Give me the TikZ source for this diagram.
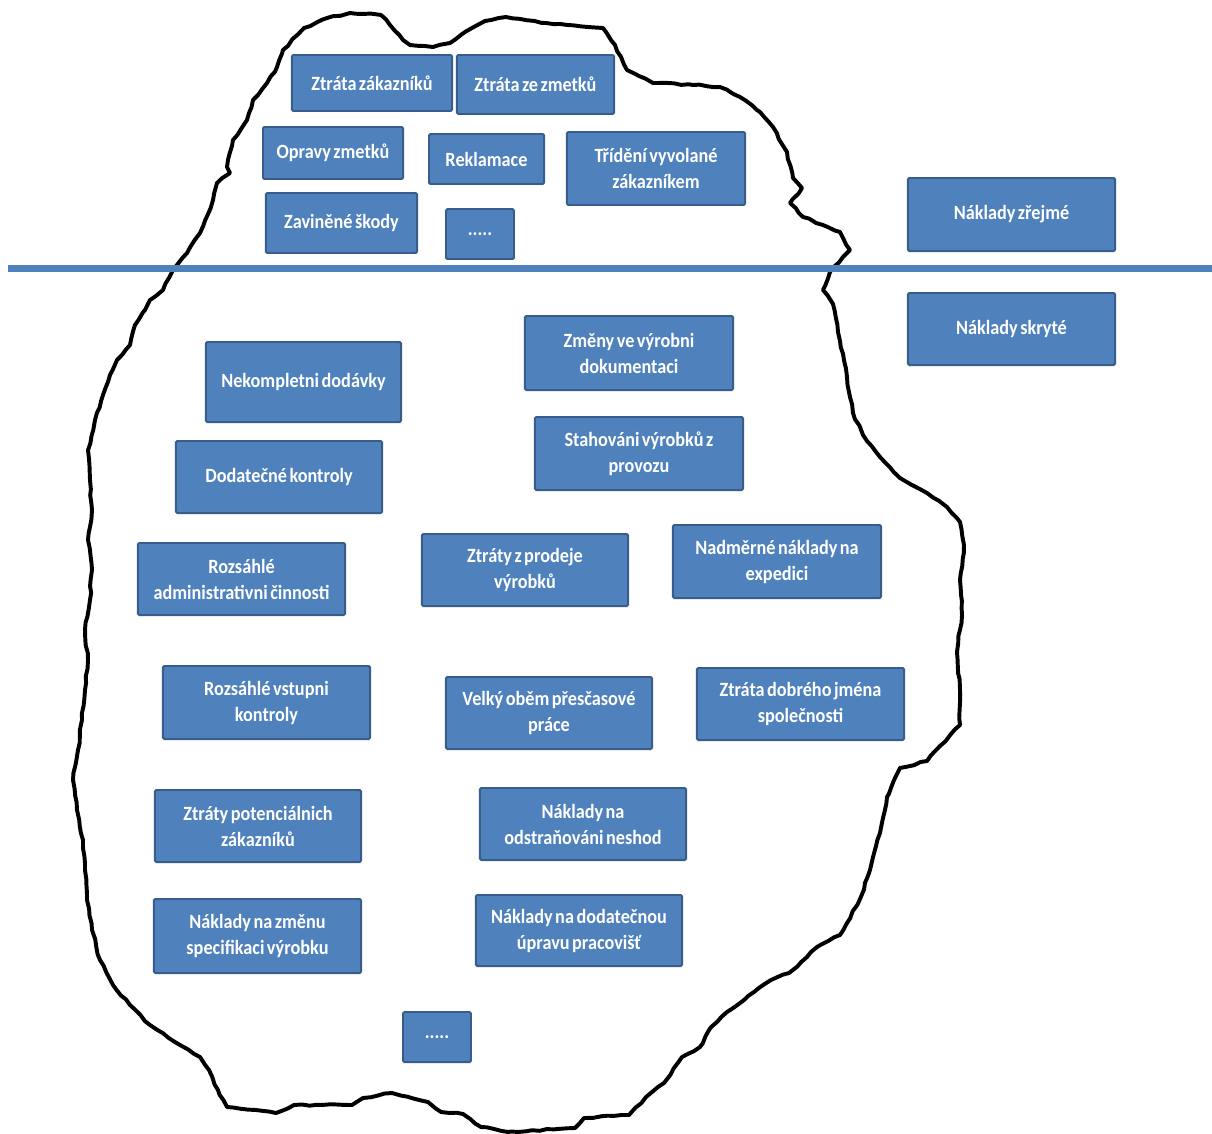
\documentclass[tikz,border=0pt]{standalone}
\usepackage{fontspec}
\setmainfont{Carlito}[FakeStretch=0.9,WordSpace=0.6]
\usetikzlibrary{decorations.pathmorphing}
\definecolor{boxfill}{HTML}{4F81BD}
\definecolor{boxedge}{HTML}{385D8A}
\begin{document}
\begin{tikzpicture}[x=0.025cm,y=-0.025cm,
  costbox/.style={draw=boxedge,fill=boxfill,line width=1.4pt,rounded corners=1pt,
    text=white,align=center,inner sep=2pt,
    font=\bfseries\fontsize{14.4}{18.5}\selectfont},
  berg/.style={line width=2.8pt,line join=round,
    decorate,decoration={random steps,segment length=5pt,amplitude=0.6pt}},
  waterline/.style={boxfill,line width=5pt}]
\useasboundingbox (0,0) rectangle (1212,1133);
% iceberg outline
\draw[berg] (163,290)--(173,270)--(187,253)--(200,233)--(213,200)--(217,183)--(230,173)--(227,167)
 --(233,140)--(247,120)--(253,100)--(267,83)--(277,67)--(283,50)--(304,28)--(327,18)--(350,13)
 --(381,15)--(390,25)--(403,40)--(410,45)--(433,47)--(450,43)--(465,32)--(485,21)--(506,17)
 --(546,23)--(603,28)--(615,45)--(627,70)--(653,83)--(693,85)--(720,87)--(740,97)--(760,112)
 --(773,127)--(787,152)--(793,178)--(802,188)--(790,203)--(803,217)--(823,225)--(840,232)
 --(850,250)--(843,257)--(830,272)--(823,290)--(833,304)--(840,341)--(847,377)--(853,413)
 --(863,435)--(880,457)--(900,478)--(927,493)--(947,507)--(960,522)--(964,545)--(960,580)
 --(962,615)--(957,652)--(960,690)--(960,725)--(940,746)--(927,761)--(900,768)--(887,797)
 --(880,833)--(870,870)--(860,899)--(840,935)--(817,947)--(807,957)--(789,973)--(771,980)
 --(754,992)--(727,1012)--(709,1030)--(700,1047)--(682,1057)--(664,1083)--(646,1097)
 --(629,1115)--(584,1118)--(575,1128)--(508,1132)--(481,1127)--(463,1114)--(441,1112)
 --(428,1102)--(392,1093)--(363,1098)--(352,1105)--(294,1105)--(276,1113)--(227,1107)
 --(218,1090)--(209,1070)--(200,1057)--(180,1045)--(150,1025)--(130,1005)--(113,985)
 --(100,960)--(92,930)--(87,900)--(85,870)--(83,840)--(77,810)--(73,780)--(78,750)--(82,720)
 --(85,690)--(88,660)--(85,630)--(90,600)--(92,570)--(88,540)--(92,510)--(90,480)--(88,450)
 --(95,420)--(103,395)--(110,375)--(117,360)--(130,345)--(135,325)--(145,310)--(150,300)--cycle;
% water line
\draw[waterline] (8,268.5)--(1212,268.5);
% visible costs
\node[costbox,minimum width=4cm,minimum height=1.4cm] (zakaz) at (372,83) {Ztráta zákazníků};
\node[costbox,minimum width=3.925cm,minimum height=1.475cm] (zmetky) at (535.5,84.5) {Ztráta ze zmetků};
\node[costbox,minimum width=3.5cm,minimum height=1.3cm] (opravy) at (333,153) {Opravy zmetků};
\node[costbox,minimum width=2.875cm,minimum height=1.25cm] (reklam) at (486.5,159) {Reklamace};
\node[costbox,minimum width=4.45cm,minimum height=1.825cm] (trideni) at (656,168.5) {Třídění vyvolané\\zákazníkem};
\node[costbox,minimum width=3.775cm,minimum height=1.5cm] (skody) at (341.5,223) {Zaviněné škody};
\node[costbox,minimum width=1.7cm,minimum height=1.25cm] (dalsiA) at (480,234) {.....};
% legend
\node[costbox,minimum width=5.175cm,minimum height=1.825cm] (zrejme) at (1011.5,214.5) {Náklady zřejmé};
\node[costbox,minimum width=5.175cm,minimum height=1.8cm] (skryte) at (1011.5,329) {Náklady skryté};
% hidden costs
\node[costbox,minimum width=4.875cm,minimum height=2cm] (dodavky) at (303.5,382) {Nekompletni dodávky};
\node[costbox,minimum width=5.15cm,minimum height=1.8cm] (kontroly) at (279,477) {Dodatečné kontroly};
\node[costbox,minimum width=5.175cm,minimum height=1.8cm] (admin) at (241.5,579) {Rozsáhlé\\administrativni činnosti};
\node[costbox,minimum width=5.2cm,minimum height=1.85cm] (zmeny) at (629,353) {Změny ve výrobni\\dokumentaci};
\node[costbox,minimum width=5.2cm,minimum height=1.825cm] (stahovani) at (639,453.5) {Stahováni výrobků z\\provozu};
\node[costbox,minimum width=5.15cm,minimum height=1.8cm] (prodej) at (525,570) {Ztráty z prodeje\\výrobků};
\node[costbox,minimum width=5.2cm,minimum height=1.825cm] (expedice) at (777,561.5) {Nadměrné náklady na\\expedici};
\node[costbox,minimum width=5.175cm,minimum height=1.825cm] (vstupni) at (266.5,702.5) {Rozsáhlé vstupni\\kontroly};
\node[costbox,minimum width=5.15cm,minimum height=1.8cm] (potenc) at (258,826) {Ztráty potenciálnich\\zákazníků};
\node[costbox,minimum width=5.175cm,minimum height=1.85cm] (specif) at (257.5,936) {Náklady na změnu\\specifikaci výrobku};
\node[costbox,minimum width=5.15cm,minimum height=1.8cm] (prescas) at (549,713) {Velký oběm přesčasové\\práce};
\node[costbox,minimum width=5.175cm,minimum height=1.8cm] (jmeno) at (800.5,704) {Ztráta dobrého jména\\společnosti};
\node[costbox,minimum width=5.15cm,minimum height=1.8cm] (neshody) at (583,824) {Náklady na\\odstraňováni neshod};
\node[costbox,minimum width=5.15cm,minimum height=1.775cm] (pracoviste) at (579,930.5) {Náklady na dodatečnou\\úpravu pracovišť};
\node[costbox,minimum width=1.7cm,minimum height=1.25cm] (dalsiB) at (437,1037) {.....};
\end{tikzpicture}
\end{document}
